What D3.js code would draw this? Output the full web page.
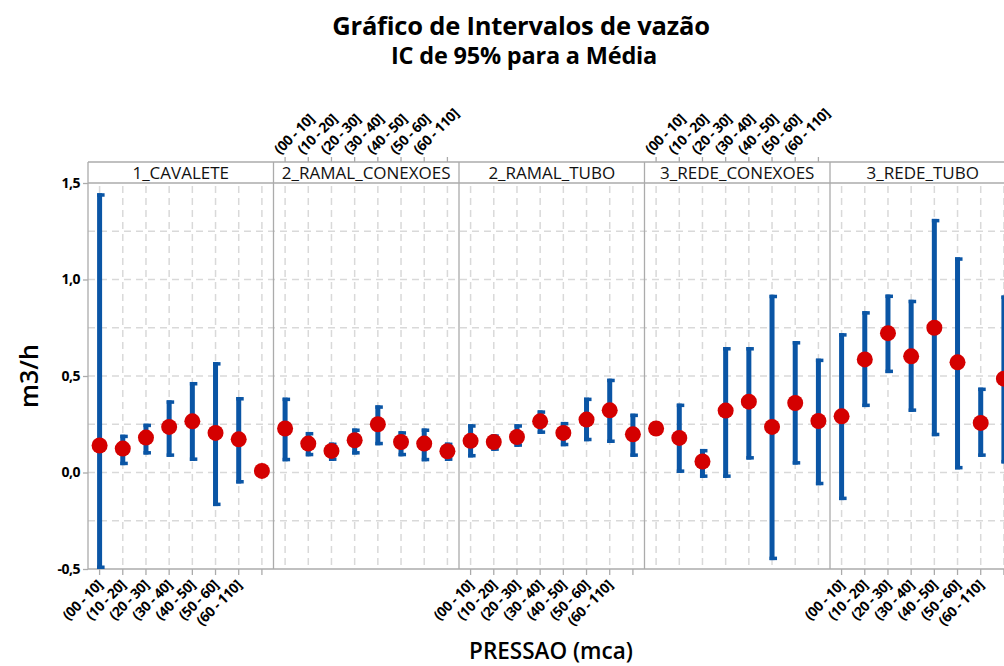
<!DOCTYPE html>
<html>
<head>
<meta charset="utf-8">
<script src="https://cdn.jsdelivr.net/npm/d3@7"></script>
<style>
  html, body { margin: 0; padding: 0; background: #fff; overflow: hidden; }
  svg { display: block; font-family: "Open Sans", "Noto Sans", sans-serif; }
</style>
</head>
<body>
<svg id="chart" width="1004" height="666"></svg>
<script>
// ---- data ----
const tipos = ["1_CAVALETE", "2_RAMAL_CONEXOES", "2_RAMAL_TUBO", "3_REDE_CONEXOES", "3_REDE_TUBO"];
const pressao = ["(00 - 10]", "(10 - 20]", "(20 - 30]", "(30 - 40]", "(40 - 50]", "(50 - 60]", "(60 - 110]", ""];
const yTicks = [-0.5, 0.0, 0.5, 1.0, 1.5];

const media1 = [0.140, 0.124, 0.181, 0.236, 0.265, 0.205, 0.172, 0.008];
const lower1 = [-0.50, 0.038, 0.093, 0.081, 0.060, -0.174, -0.057, null];
const upper1 = [1.447, 0.196, 0.253, 0.374, 0.469, 0.572, 0.391, null];

const media2 = [0.228, 0.150, 0.112, 0.167, 0.250, 0.158, 0.150, 0.110];
const lower2 = [0.058, 0.084, 0.060, 0.093, 0.141, 0.084, 0.058, 0.060];
const upper2 = [0.388, 0.210, 0.155, 0.228, 0.348, 0.214, 0.228, 0.155];

const media3 = [0.164, 0.158, 0.184, 0.265, 0.205, 0.274, 0.322, 0.198];
const lower3 = [0.078, 0.112, 0.133, 0.200, 0.136, 0.162, 0.153, 0.081];
const upper3 = [0.250, 0.198, 0.250, 0.322, 0.262, 0.388, 0.486, 0.305];

const media4 = [0.228, 0.179, 0.057, 0.321, 0.367, 0.236, 0.360, 0.267];
const lower4 = [null, -0.002, -0.028, -0.028, 0.067, -0.454, 0.041, -0.066];
const upper4 = [null, 0.357, 0.122, 0.650, 0.650, 0.921, 0.681, 0.590];

const media5 = [0.291, 0.586, 0.722, 0.602, 0.750, 0.571, 0.257, 0.486];
const lower5 = [-0.143, 0.339, 0.515, 0.314, 0.188, 0.016, 0.081, 0.047];
const upper5 = [0.722, 0.836, 0.922, 0.895, 1.314, 1.115, 0.440, 0.917];

const medias = [media1, media2, media3, media4, media5];
const lowers = [lower1, lower2, lower3, lower4, lower5];
const uppers = [upper1, upper2, upper3, upper4, upper5];

// ---- layout ----
const svg = d3.select("#chart");
const left = 88, panelW = 185.5;
const plotTop = 183, plotBottom = 569, headerTop = 162;
const BLUE = "#0a55a5", RED = "#d40000", GRID = "#d9d9d9", BORDER = "#ababab";

const xPanel = d3.scaleBand().domain(tipos).range([left, left + panelW * tipos.length]);
const xCat = d3.scaleBand().domain(pressao).range([0, panelW]);
const y = d3.scaleLinear().domain([-0.5, 1.5]).range([plotBottom, plotTop]);

const data = [];
tipos.forEach((t, i) => {
  pressao.forEach((p, j) => {
    data.push({ tipo: t, p: p, m: medias[i][j], lo: lowers[i][j], hi: uppers[i][j] });
  });
});
const cx = d => xPanel(d.tipo) + xCat(d.p) + xCat.bandwidth() / 2;

// title
svg.append("text").attr("x", 521).attr("y", 35).attr("text-anchor", "middle")
  .attr("font-size", 25.5).attr("font-weight", 700).attr("letter-spacing", "-0.2")
  .text("Gráfico de Intervalos de vazão");
svg.append("text").attr("x", 524).attr("y", 64).attr("text-anchor", "middle")
  .attr("font-size", 23.5).attr("font-weight", 700).attr("letter-spacing", "-0.2")
  .text("IC de 95% para a Média");

// gridlines horizontal
const hGrid = d3.range(-0.25, 1.5, 0.25);
svg.append("g").selectAll("line").data(hGrid).join("line")
  .attr("x1", left).attr("x2", 1004)
  .attr("y1", d => y(d)).attr("y2", d => y(d))
  .attr("stroke", GRID).attr("stroke-width", 1.5).attr("stroke-dasharray", "7,5");

// vertical grid
svg.append("g").selectAll("line").data(data).join("line")
  .attr("x1", cx).attr("x2", cx).attr("y1", plotTop + 3).attr("y2", plotBottom)
  .attr("stroke", GRID).attr("stroke-width", 1.5).attr("stroke-dasharray", "7,5");

// panels: borders + headers
tipos.forEach((t, i) => {
  const x0 = xPanel(t);
  const g = svg.append("g");
  g.append("line").attr("x1", x0).attr("x2", x0).attr("y1", headerTop).attr("y2", plotBottom)
    .attr("stroke", BORDER).attr("stroke-width", 1.3);
  g.append("text").attr("x", x0 + panelW / 2).attr("y", 179).attr("text-anchor", "middle")
    .attr("font-size", 17).attr("fill", "#111").text(t);
});
svg.append("line").attr("x1", left).attr("x2", 1004).attr("y1", headerTop).attr("y2", headerTop)
  .attr("stroke", BORDER).attr("stroke-width", 1.3);
svg.append("line").attr("x1", left).attr("x2", 1004).attr("y1", plotTop).attr("y2", plotTop)
  .attr("stroke", BORDER).attr("stroke-width", 1.3);
svg.append("line").attr("x1", left).attr("x2", 1004).attr("y1", plotBottom).attr("y2", plotBottom)
  .attr("stroke", BORDER).attr("stroke-width", 1.3);

// y axis
const yAxis = svg.append("g").attr("transform", `translate(${left},0)`)
  .call(d3.axisLeft(y).tickValues(yTicks).tickSize(5).tickPadding(3)
    .tickFormat(d => d3.format(".1f")(d).replace("−", "-").replace(".", ",")));
yAxis.select(".domain").remove();
yAxis.selectAll(".tick line").attr("stroke", BORDER).attr("stroke-width", 1.3);
yAxis.selectAll(".tick text").attr("font-size", 14).attr("font-weight", 700).attr("fill", "#000")
  .attr("letter-spacing", "-0.5")
  .attr("font-family", "'Open Sans', sans-serif");

// category axes: bottom for panels 0,2,4 ; top for 1,3
tipos.forEach((t, i) => {
  const sc = d3.scaleBand().domain(pressao).range([xPanel(t), xPanel(t) + panelW]);
  const bottom = (i % 2 === 0);
  const ax = bottom
    ? d3.axisBottom(sc).tickSize(6).tickPadding(0)
    : d3.axisTop(sc).tickSize(5).tickPadding(0);
  const g = svg.append("g").attr("transform", `translate(0,${bottom ? plotBottom : headerTop})`).call(ax);
  g.select(".domain").remove();
  g.selectAll(".tick line").attr("stroke", BORDER).attr("stroke-width", 1.3);
  g.selectAll(".tick text")
    .attr("font-size", 14).attr("font-weight", 700).attr("fill", "#000")
    .attr("letter-spacing", "-0.4")
    .attr("font-family", "'Open Sans', sans-serif")
    .attr("dy", null)
    .attr("text-anchor", bottom ? "end" : "start")
    .attr("transform", bottom ? "translate(4,17) rotate(-45)" : "translate(-5,-7) rotate(-45)")
    .attr("y", 0).attr("x", 0);
});

// intervals
const iv = data.filter(d => d.lo !== null);
const bars = svg.append("g");
bars.selectAll("rect.bar").data(iv).join("rect").attr("class", "bar")
  .attr("x", d => cx(d) - 2.5).attr("width", 5)
  .attr("y", d => y(d.hi)).attr("height", d => y(d.lo) - y(d.hi))
  .attr("fill", BLUE);
bars.selectAll("rect.capHi").data(iv).join("rect").attr("class", "capHi")
  .attr("x", d => cx(d) - 2.5).attr("width", 7.5)
  .attr("y", d => y(d.hi)).attr("height", 3.5).attr("fill", BLUE);
bars.selectAll("rect.capLo").data(iv).join("rect").attr("class", "capLo")
  .attr("x", d => cx(d) - 2.5).attr("width", 7.5)
  .attr("y", d => y(d.lo) - 3.5).attr("height", 3.5).attr("fill", BLUE);

// means
svg.append("g").selectAll("circle").data(data).join("circle")
  .attr("cx", cx).attr("cy", d => y(d.m)).attr("r", 8).attr("fill", RED);

// axis titles
svg.append("text").attr("transform", "translate(38,376) rotate(-90)").attr("text-anchor", "middle")
  .attr("font-size", 25).attr("font-weight", 600).text("m3/h");
svg.append("text").attr("x", 551).attr("y", 659).attr("text-anchor", "middle")
  .attr("font-size", 22.5).attr("font-weight", 600).text("PRESSAO (mca)");
</script>
</body>
</html>
